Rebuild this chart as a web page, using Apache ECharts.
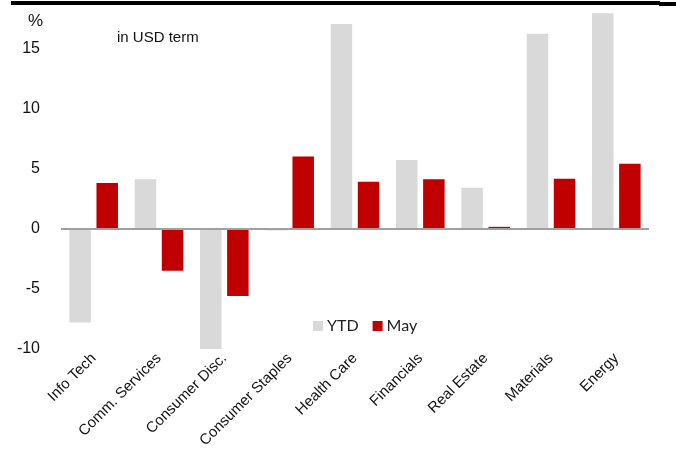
<!DOCTYPE html>
<html>
<head>
<meta charset="utf-8">
<script src="https://cdn.jsdelivr.net/npm/echarts@6/dist/echarts.min.js"></script>
<style>
  html, body { margin: 0; padding: 0; background: #ffffff; }
  #chart { width: 681px; height: 459px; }
</style>
</head>
<body>
<div id="chart"></div>
<script>
// Sector returns, in %
const categories = ['Info Tech', 'Comm. Services', 'Consumer Disc.', 'Consumer Staples',
  'Health Care', 'Financials', 'Real Estate', 'Materials', 'Energy'];
const ytdValues = [-7.8, 4.1, -10.0, -0.15, 17.0, 5.7, 3.4, 16.2, 17.9];
const mayValues = [3.8, -3.5, -5.6, 6.0, 3.9, 4.1, 0.15, 4.15, 5.4];
const yTicks = [-10, -5, 0, 5, 10, 15];

const chart = echarts.init(document.getElementById('chart'), null, { renderer: 'canvas' });

chart.setOption({
  animation: false,
  backgroundColor: '#ffffff',
  grid: { left: 61, right: 32, top: 12, bottom: 110 },
  legend: {
    data: ['YTD', 'May'],
    left: 308,
    top: 313,
    itemWidth: 10,
    itemHeight: 10,
    itemGap: 14,
    icon: 'rect',
    textStyle: { fontFamily: 'Lato', fontSize: 16, color: '#222222', padding: [0, 0, 0, -1] }
  },
  xAxis: {
    type: 'category',
    data: categories,
    position: 'bottom',
    axisLine: { show: false, onZero: false },
    axisTick: { show: false },
    axisLabel: {
      rotate: 45,
      margin: 7,
      interval: 0,
      fontFamily: 'Liberation Sans',
      fontSize: 15,
      color: '#111111'
    }
  },
  yAxis: {
    type: 'value',
    min: -10,
    max: 18,
    interval: 5,
    axisLine: { show: false },
    axisTick: { show: false },
    splitLine: { show: false },
    axisLabel: {
      margin: 21,
      fontFamily: 'Liberation Sans',
      fontSize: 16,
      color: '#111111',
      formatter: v => (yTicks.indexOf(v) >= 0 ? String(v) : '')
    }
  },
  series: [
    {
      name: 'YTD',
      type: 'bar',
      data: ytdValues,
      barWidth: 21.5,
      barGap: '26%',
      itemStyle: { color: '#d9d9d9' },
      markLine: {
        silent: true,
        symbol: 'none',
        label: { show: false },
        lineStyle: { color: '#a0a0a0', width: 2, type: 'solid' },
        data: [{ yAxis: 0 }]
      }
    },
    {
      name: 'May',
      type: 'bar',
      data: mayValues,
      barWidth: 21.5,
      itemStyle: { color: '#c00000' }
    }
  ],
  graphic: [
    { type: 'rect', shape: { x: 11, y: 1, width: 649, height: 4 }, style: { fill: '#000000' } },
    { type: 'rect', shape: { x: 659, y: 2, width: 17, height: 4 }, style: { fill: '#000000' } },
    { type: 'text', left: 28, top: 13, style: { text: '%', fontFamily: 'Liberation Sans', fontSize: 17, fill: '#111111' } },
    { type: 'text', left: 117, top: 30, style: { text: 'in USD term', fontFamily: 'Liberation Sans', fontSize: 15, fill: '#111111' } }
  ]
});
</script>
</body>
</html>
